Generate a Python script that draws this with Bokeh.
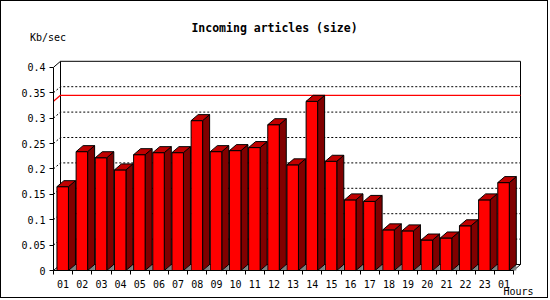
from bokeh.plotting import figure
from bokeh.models import FixedTicker, Range1d, Label
from bokeh.embed import file_html
from bokeh.resources import INLINE

# ---- data ----
hours = ["01", "02", "03", "04", "05", "06", "07", "08", "09", "10", "11", "12",
         "13", "14", "15", "16", "17", "18", "19", "20", "21", "22", "23", "01"]
rates = [0.165, 0.234, 0.222, 0.198, 0.228, 0.232, 0.232, 0.295, 0.234, 0.236, 0.242, 0.287,
         0.208, 0.333, 0.215, 0.139, 0.136, 0.080, 0.078, 0.060, 0.064, 0.088, 0.139, 0.173]
y_ticks = [0, 0.05, 0.1, 0.15, 0.2, 0.25, 0.3, 0.35, 0.4]
y_tick_labels = ["0", "0.05", "0.1", "0.15", "0.2", "0.25", "0.3", "0.35", "0.4"]
grid_levels = [0.05, 0.1, 0.15, 0.2, 0.25, 0.3, 0.35]
title_text = "Incoming articles (size)"
y_label = "Kb/sec"
x_label = "Hours"

# ---- geometry: page pixel of the front-plane origin and scales ----
n = len(rates)
OX, OY = 53.0, 270.0      # page px of (0, 0)
KX = 460.0 / n            # px per category
KY = 508.0                # px per Kb/sec
DX = 7.0 / KX             # depth offset (x) in data units
DY = 6.0 / KY             # depth offset (y) in data units
W, H = 548, 298           # canvas (plus 1px border on each side)
y_top = y_ticks[-1]


def xd(px):
    return (px - OX) / KX


def yd(py):
    return (OY - py) / KY


FONT = "DejaVu Sans Mono"

p = figure(width=W, height=H, output_backend="svg", toolbar_location=None,
           x_range=Range1d(xd(1), xd(1 + W)), y_range=Range1d(yd(1 + H), yd(1)),
           tools="", styles={"border": "1px solid black"})
p.min_border = 0
p.min_border_left = 0
p.min_border_right = 0
p.min_border_top = 0
p.min_border_bottom = 0
p.outline_line_color = None
p.background_fill_color = "white"
p.border_fill_color = "white"
p.xgrid.visible = False
p.ygrid.visible = False

# y axis placed at x = 0 inside the frame
ya = p.yaxis[0]
ya.fixed_location = 0
ya.ticker = FixedTicker(ticks=y_ticks, minor_ticks=[])
ya.major_label_overrides = {t: s for t, s in zip(y_ticks, y_tick_labels)}
ya.bounds = (0, y_top)
ya.major_tick_out = 4
ya.major_tick_in = 0
ya.major_label_standoff = 4
ya.major_label_text_font = FONT
ya.major_label_text_font_size = "10px"
ya.major_label_text_color = "black"
ya.axis_line_color = "black"

# x axis placed at y = 0: labels at centres, ticks at boundaries (as minor ticks)
xa = p.xaxis[0]
xa.fixed_location = 0
centers = [i + 0.5 for i in range(n)]
xa.ticker = FixedTicker(ticks=centers, minor_ticks=list(range(n + 1)))
xa.major_label_overrides = {c: h for c, h in zip(centers, hours)}
xa.bounds = (0, n)
xa.major_tick_out = 0
xa.major_tick_in = 0
xa.minor_tick_out = 4
xa.minor_tick_in = 0
xa.minor_tick_line_color = "black"
xa.major_label_standoff = 5
xa.major_label_text_font = FONT
xa.major_label_text_font_size = "10px"
xa.major_label_text_color = "black"
xa.axis_line_color = "black"

# back wall and floor edges
p.line([DX, DX, n + DX, n + DX], [DY, y_top + DY, y_top + DY, DY], line_color="black", line_width=1)
p.line([DX, n + DX], [DY, DY], line_color="black", line_width=1)
p.line([0, DX], [y_top, y_top + DY], line_color="black", line_width=1)
p.line([0, DX], [0, DY], line_color="black", line_width=1)
p.line([n, n + DX], [0, DY], line_color="black", line_width=1)

# dotted grid on the back wall
for g in grid_levels:
    p.line([0, DX, n + DX], [g, g + DY, g + DY], line_color="black", line_width=1, line_dash="2 2")

# peak line
peak = max(rates)
p.line([0, DX, n + DX], [peak, peak + DY, peak + DY], line_color="#ff0000", line_width=1.3)

# bars
L0, R0 = 0.18, 0.78
shadow_xs, shadow_ys = [], []
side_xs, side_ys = [], []
front_xs, front_ys = [], []
top_xs, top_ys = [], []
for i, v in enumerate(rates):
    xl, xr = i + L0, i + R0
    shadow_xs.append([xr, xr + DX, xr + DX]); shadow_ys.append([0, DY, 0])
    side_xs.append([xr, xr + DX, xr + DX, xr]); side_ys.append([0, DY, v + DY, v])
    front_xs.append([xl, xr, xr, xl]); front_ys.append([0, 0, v, v])
    top_xs.append([xl, xr, xr + DX, xl + DX]); top_ys.append([v, v, v + DY, v + DY])

p.patches(shadow_xs, shadow_ys, fill_color="#808080", line_color=None)
p.patches(side_xs, side_ys, fill_color="#800000", line_color="black", line_width=1)
p.patches(front_xs, front_ys, fill_color="#ff0000", line_color="black", line_width=1)
p.patches(top_xs, top_ys, fill_color="#c00000", line_color="black", line_width=1)

# texts
p.add_layout(Label(x=xd(274), y=yd(27), text=title_text,
                   text_font=FONT, text_font_size="11.5px", text_font_style="bold",
                   text_align="center", text_baseline="middle", text_color="black"))
p.add_layout(Label(x=xd(47.5), y=yd(37), text=y_label,
                   text_font=FONT, text_font_size="10px",
                   text_align="center", text_baseline="middle", text_color="black"))
p.add_layout(Label(x=xd(518), y=yd(291), text=x_label,
                   text_font=FONT, text_font_size="10px",
                   text_align="center", text_baseline="middle", text_color="black"))

open("out.html", "w").write(file_html(p, INLINE))
